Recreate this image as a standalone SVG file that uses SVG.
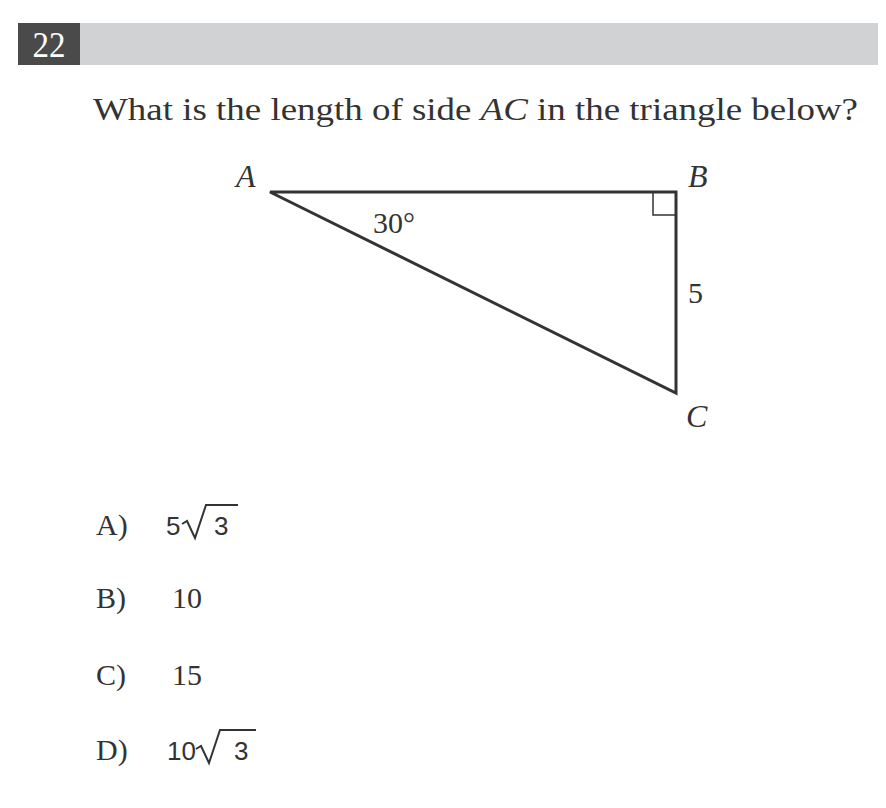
<svg xmlns="http://www.w3.org/2000/svg" width="886" height="808" viewBox="0 0 886 808">
<style>
.serif{font-family:"Liberation Serif","Times New Roman",serif;fill:#333;}
.sans{font-family:"Liberation Sans",Arial,sans-serif;fill:#333;}
.it{font-style:italic;}
.edge{stroke:#333;stroke-width:3;fill:none;stroke-linecap:square;}
.rad{stroke:#333;stroke-width:2;fill:none;}
</style>
<rect width="886" height="808" fill="#fff"/>
<g id="header">
<rect x="80" y="23" width="798" height="42" fill="#d1d2d4"/>
<rect x="18" y="23" width="62" height="42" fill="#4a4a4b"/>
<text x="49" y="57" class="serif" font-size="36" text-anchor="middle" style="fill:#fff" textLength="33" lengthAdjust="spacingAndGlyphs">22</text>
</g>
<g id="question">
<text x="93" y="120" class="serif" font-size="32" textLength="765" lengthAdjust="spacingAndGlyphs">What is the length of side <tspan class="it">AC</tspan> in the triangle below?</text>
</g>
<g id="connectors">
<path class="edge" d="M270 192 L676 192 L676 393 Z" stroke-linejoin="miter"/>
<path d="M653 192 V215 H676" fill="none" stroke="#333" stroke-width="1.5"/>
</g>
<g id="vertexA"><text x="236" y="187" class="serif it" font-size="32">A</text></g>
<g id="vertexB"><text x="688" y="187" class="serif it" font-size="32">B</text></g>
<g id="vertexC"><text x="686" y="427" class="serif it" font-size="32">C</text></g>
<g id="angle"><text x="373" y="233" class="serif" font-size="30">30°</text></g>
<g id="side"><text x="688" y="303" class="serif" font-size="30">5</text></g>
<g id="answerA">
<text x="96" y="535" class="serif" font-size="30">A)</text>
<text x="166" y="535" class="sans" font-size="26">5</text>
<path class="rad" d="M182 524 L187 521 L195 538 L206 505 H238"/>
<text x="214" y="535" class="sans" font-size="26">3</text>
</g>
<g id="answerB">
<text x="96" y="608" class="serif" font-size="30">B)</text>
<text x="172" y="608" class="serif" font-size="30">10</text>
</g>
<g id="answerC">
<text x="96" y="685" class="serif" font-size="30">C)</text>
<text x="172" y="685" class="serif" font-size="30">15</text>
</g>
<g id="answerD">
<text x="96" y="760" class="serif" font-size="30">D)</text>
<text x="167" y="760" class="sans" font-size="26">10</text>
<path class="rad" d="M196 749 L201 746 L209 763 L220 730 H256"/>
<text x="234" y="760" class="sans" font-size="26">3</text>
</g>
</svg>
